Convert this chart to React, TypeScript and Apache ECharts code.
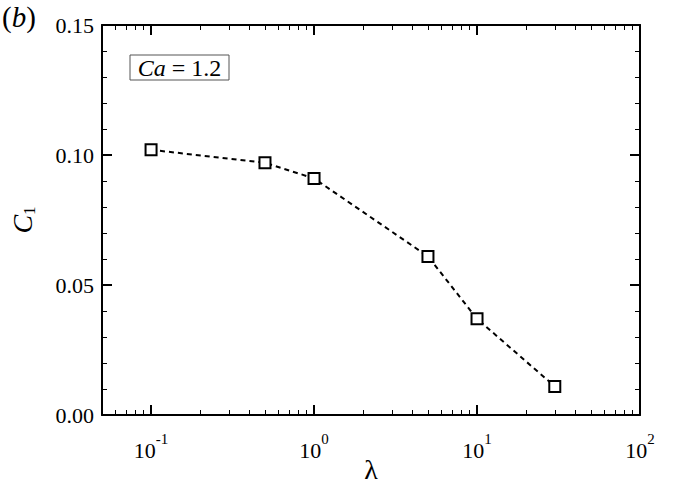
import React, { useEffect, useRef } from "react";
import * as echarts from "echarts";

const lambdaValues = [0.1, 0.5, 1, 5, 10, 30];
const c1Values = [0.102, 0.097, 0.091, 0.061, 0.037, 0.011];
const xMinorTicks = [
  0.06, 0.07, 0.08, 0.09,
  0.2, 0.3, 0.4, 0.5, 0.6, 0.7, 0.8, 0.9,
  2, 3, 4, 5, 6, 7, 8, 9,
  20, 30, 40, 50, 60, 70, 80, 90,
];
const xMin = 0.05;
const xMax = 100;
const yMin = 0;
const yMax = 0.15;
const yStep = 0.05;

const FONT = "'Liberation Serif', 'Times New Roman', serif";

export default function App() {
  const ref = useRef<HTMLDivElement>(null);
  useEffect(() => {
    document.body.style.margin = "0";
    if (!ref.current) return;
    const chart = echarts.init(ref.current, undefined, { renderer: "svg" });
    const data = lambdaValues.map((x, i) => [x, c1Values[i]]);
    const logMinorTicks = xMinorTicks.map((v) => Math.log10(v));
    const supLabel = (v: number) => {
      const lg = Math.log10(v);
      const e = Math.round(lg);
      if (Math.abs(lg - e) > 1e-6) return "";
      return `{b|10}{s|${e}}`;
    };
    const grid = {
      left: 102,
      right: 34,
      top: 25,
      bottom: 76,
      containLabel: false,
      outerBoundsMode: "none",
    };
    const axisLineStyle = { show: true, onZero: false, lineStyle: { color: "#000", width: 2 } };
    const majorTick = { show: true, inside: true, length: 10, lineStyle: { color: "#000", width: 2 } };
    const minorAxisBase = {
      type: "value" as const,
      min: Math.log10(xMin),
      max: Math.log10(xMax),
      axisLine: { show: false, onZero: false },
      axisLabel: { show: false },
      splitLine: { show: false },
      axisTick: {
        show: true,
        inside: true,
        length: 5,
        customValues: logMinorTicks,
        lineStyle: { color: "#000", width: 1 },
      },
    };
    chart.setOption({
      animation: false,
      backgroundColor: "#fff",
      textStyle: { fontFamily: FONT },
      grid,
      xAxis: [
        {
          type: "log",
          logBase: 10,
          min: xMin,
          max: xMax,
          position: "bottom",
          name: "λ",
          nameLocation: "middle",
          nameGap: 40,
          nameMoveOverlap: false,
          nameTextStyle: { fontFamily: FONT, fontSize: 28, color: "#000", lineHeight: 28 },
          axisLine: axisLineStyle,
          axisTick: majorTick,
          splitLine: { show: false },
          axisLabel: {
            margin: 16,
            formatter: supLabel,
            showMinLabel: false,
            fontFamily: FONT,
            rich: {
              b: { fontFamily: FONT, fontSize: 22, color: "#000", lineHeight: 30, verticalAlign: "bottom" },
              s: { fontFamily: FONT, fontSize: 15, color: "#000", lineHeight: 30, verticalAlign: "top" },
            },
          },
        },
        {
          type: "log",
          logBase: 10,
          min: xMin,
          max: xMax,
          position: "top",
          axisLine: axisLineStyle,
          axisTick: majorTick,
          axisLabel: { show: false },
          splitLine: { show: false },
        },
        { ...minorAxisBase, position: "bottom" },
        { ...minorAxisBase, position: "top" },
      ],
      yAxis: [
        {
          type: "value",
          min: yMin,
          max: yMax,
          interval: yStep,
          position: "left",
          name: "{c|C}{n|1}",
          nameLocation: "middle",
          nameRotate: 90,
          nameGap: 64,
          nameMoveOverlap: false,
          nameTextStyle: {
            fontFamily: FONT,
            rich: {
              c: { fontFamily: FONT, fontSize: 28, fontStyle: "italic", color: "#000", lineHeight: 30, verticalAlign: "top" },
              n: { fontFamily: FONT, fontSize: 17, color: "#000", lineHeight: 30, verticalAlign: "bottom" },
            },
          },
          axisLine: axisLineStyle,
          axisTick: majorTick,
          minorTick: { show: true, splitNumber: 5, length: 5, lineStyle: { color: "#000", width: 1 } },
          splitLine: { show: false },
          minorSplitLine: { show: false },
          axisLabel: {
            margin: 8,
            fontFamily: FONT,
            fontSize: 22,
            color: "#000",
            formatter: (v: number) => v.toFixed(2),
          },
        },
        {
          type: "value",
          min: yMin,
          max: yMax,
          interval: yStep,
          position: "right",
          axisLine: axisLineStyle,
          axisTick: majorTick,
          minorTick: { show: true, splitNumber: 5, length: 5, lineStyle: { color: "#000", width: 1 } },
          splitLine: { show: false },
          minorSplitLine: { show: false },
          axisLabel: { show: false },
        },
      ],
      series: [
        {
          type: "line",
          xAxisIndex: 0,
          yAxisIndex: 0,
          data,
          symbol: "rect",
          symbolSize: 11,
          itemStyle: { color: "#fff", borderColor: "#000", borderWidth: 2 },
          lineStyle: { color: "#000", width: 2, type: [5, 4] },
          z: 3,
        },
      ],
      graphic: [
        {
          type: "text",
          left: 2,
          top: 2,
          style: {
            text: "{n|(}{i|b}{n|)}",
            rich: {
              n: { fontFamily: FONT, fontSize: 29, fill: "#000" },
              i: { fontFamily: FONT, fontSize: 29, fontStyle: "italic", fill: "#000" },
            },
          },
        },
        {
          type: "rect",
          shape: { x: 130, y: 55, width: 99, height: 25 },
          style: { fill: "#fff", stroke: "#555", lineWidth: 1 },
          z: 10,
        },
        {
          type: "text",
          x: 179.5,
          y: 68,
          z: 11,
          style: {
            text: "{i|Ca}{n| = 1.2}",
            align: "center",
            verticalAlign: "middle",
            rich: {
              i: { fontFamily: FONT, fontSize: 24, fontStyle: "italic", fill: "#000" },
              n: { fontFamily: FONT, fontSize: 24, fill: "#000" },
            },
          },
        },
      ],
    });
    return () => chart.dispose();
  }, []);
  return <div ref={ref} style={{ width: 674, height: 491 }} />;
}
